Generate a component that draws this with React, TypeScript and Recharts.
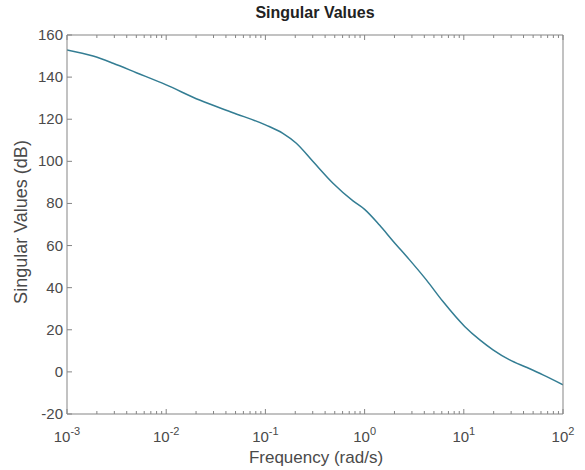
import React from "react";
import { Line, LineChart, XAxis, YAxis } from "recharts";

// frequency (rad/s) and singular value (dB)
const FREQ = [
  0.001, 0.00183, 0.00291, 0.005, 0.01, 0.0217, 0.0471, 0.1, 0.15, 0.205, 0.302, 0.48, 0.764, 1,
  1.42, 1.93, 2.84, 4.19, 6.17, 10.2, 14.5, 19.7, 29.0, 42.7, 62.8, 100,
];
const SV_DB = [
  152.9, 150.0, 146.6, 142.1, 136.3, 129.1, 123.1, 117.3, 113.3, 108.6, 99.9, 89.6, 81.2, 77.2,
  69.6, 62.2, 53.2, 43.7, 33.4, 21.6, 15.2, 10.5, 5.7, 2.2, -1.4, -6.1,
];

const X_MAJOR = [0.001, 0.01, 0.1, 1, 10, 100];
const X_EXPONENTS = ["-3", "-2", "-1", "0", "1", "2"];
const MINOR_STEPS = [2, 3, 4, 5, 6, 7, 8, 9];
const Y_TICKS = [-20, 0, 20, 40, 60, 80, 100, 120, 140, 160];

const data = FREQ.map((f, i) => ({ f, db: SV_DB[i] }));
const X_MINOR = X_MAJOR.slice(0, -1).flatMap((d) => MINOR_STEPS.map((m) => m * d));
const X_TICKS = [...X_MAJOR, ...X_MINOR].sort((a, b) => a - b);

const AXIS = "#858585";
const TEXT = "#4a4a4a";
const LINE = "#337d93";
const FONT = '"Liberation Sans", Arial, Helvetica, sans-serif';

function BottomTick(props: any) {
  const { x, y, payload } = props;
  const idx = X_MAJOR.indexOf(payload.value);
  const major = idx >= 0;
  return (
    <g>
      <line x1={x} x2={x} y1={y} y2={y - (major ? 5 : 3)} stroke={AXIS} />
      {major && (
        <text x={x} y={y + 28} textAnchor="middle" fontSize={15} fill={TEXT} fontFamily={FONT}>
          <tspan>10</tspan>
          <tspan dy={-7} fontSize={11}>
            {X_EXPONENTS[idx]}
          </tspan>
        </text>
      )}
    </g>
  );
}

function TopTick(props: any) {
  const { x, y, payload } = props;
  const major = X_MAJOR.includes(payload.value);
  return <line x1={x} x2={x} y1={y} y2={y + (major ? 5 : 3)} stroke={AXIS} />;
}

function LeftTick(props: any) {
  const { x, y, payload } = props;
  return (
    <g>
      <line x1={x} x2={x + 5} y1={y} y2={y} stroke={AXIS} />
      <text x={x - 4} y={y + 5} textAnchor="end" fontSize={15} fill={TEXT} fontFamily={FONT}>
        {payload.value}
      </text>
    </g>
  );
}

function RightTick(props: any) {
  const { x, y } = props;
  return <line x1={x} x2={x - 5} y1={y} y2={y} stroke={AXIS} />;
}

export default function App() {
  return (
    <div
      style={{
        position: "absolute",
        left: 0,
        top: 0,
        width: 585,
        height: 470,
        background: "#fff",
        fontFamily: FONT,
      }}
    >
      <div
        style={{
          position: "absolute",
          left: 0,
          width: 630,
          top: 4,
          textAlign: "center",
          fontSize: 16,
          fontWeight: "bold",
          color: "#222",
        }}
      >
        Singular Values
      </div>
      <div
        style={{
          position: "absolute",
          left: 21,
          top: 222,
          transform: "translate(-50%, -50%) rotate(-90deg)",
          whiteSpace: "nowrap",
          fontSize: 18,
          color: TEXT,
        }}
      >
        Singular Values (dB)
      </div>
      <div
        style={{
          position: "absolute",
          left: 0,
          width: 632,
          top: 448,
          lineHeight: "19px",
          textAlign: "center",
          fontSize: 17,
          color: TEXT,
        }}
      >
        Frequency (rad/s)
      </div>
      <LineChart width={585} height={470} data={data} margin={{ top: 35, right: 22, bottom: 0, left: 0 }}>
        <XAxis
          xAxisId="b"
          dataKey="f"
          type="number"
          scale="log"
          domain={[0.001, 100]}
          allowDataOverflow
          ticks={X_TICKS}
          interval={0}
          height={56}
          tickSize={0}
          tickMargin={0}
          tickLine={false}
          axisLine={{ stroke: AXIS }}
          tick={(p: any) => <BottomTick {...p} />}
        />
        <XAxis
          xAxisId="t"
          dataKey="f"
          type="number"
          scale="log"
          orientation="top"
          mirror
          domain={[0.001, 100]}
          allowDataOverflow
          ticks={X_TICKS}
          interval={0}
          height={20}
          tickSize={0}
          tickMargin={0}
          tickLine={false}
          axisLine={{ stroke: AXIS }}
          tick={(p: any) => <TopTick {...p} />}
        />
        <YAxis
          yAxisId="l"
          type="number"
          domain={[-20, 160]}
          ticks={Y_TICKS}
          interval={0}
          width={67}
          tickSize={0}
          tickMargin={0}
          tickLine={false}
          axisLine={{ stroke: AXIS }}
          tick={(p: any) => <LeftTick {...p} />}
        />
        <YAxis
          yAxisId="r"
          orientation="right"
          mirror
          type="number"
          domain={[-20, 160]}
          ticks={Y_TICKS}
          interval={0}
          width={20}
          tickSize={0}
          tickMargin={0}
          tickLine={false}
          axisLine={{ stroke: AXIS }}
          tick={(p: any) => <RightTick {...p} />}
        />
        <Line
          xAxisId="b"
          yAxisId="l"
          dataKey="db"
          type="monotone"
          stroke={LINE}
          strokeWidth={1.5}
          dot={false}
          isAnimationActive={false}
        />
      </LineChart>
    </div>
  );
}
